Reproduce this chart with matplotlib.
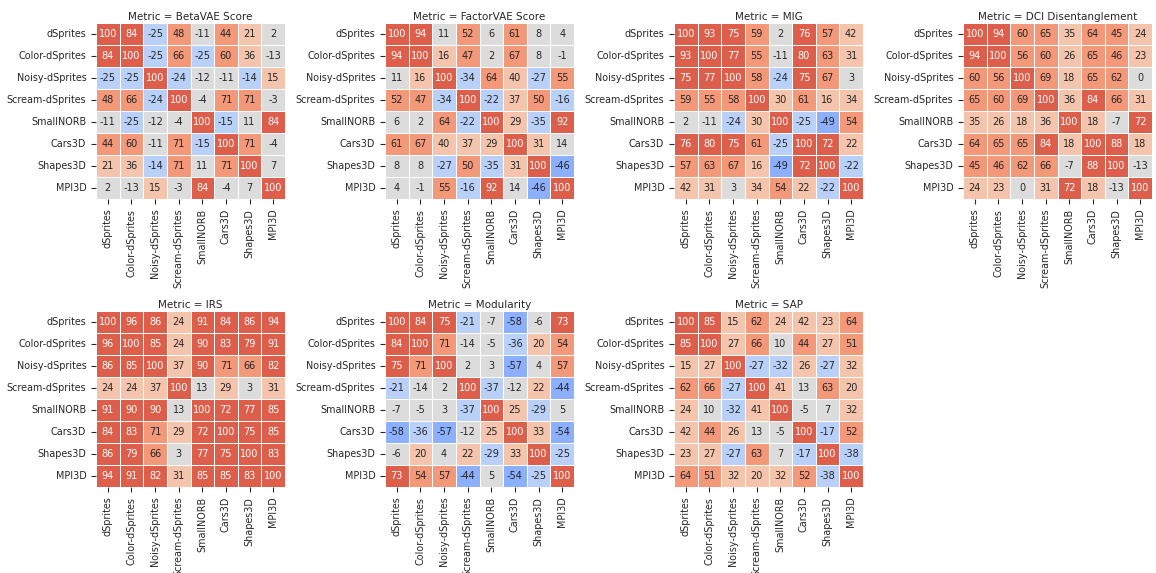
import numpy as np
import matplotlib
matplotlib.use("Agg")
import matplotlib.pyplot as plt
import seaborn as sns

datasets = ["dSprites", "Color-dSprites", "Noisy-dSprites", "Scream-dSprites",
            "SmallNORB", "Cars3D", "Shapes3D", "MPI3D"]

metrics = ["BetaVAE Score", "FactorVAE Score", "MIG", "DCI Disentanglement",
           "IRS", "Modularity", "SAP"]

beta_vae = [
    [100, 84, -25, 48, -11, 44, 21, 2],
    [84, 100, -25, 66, -25, 60, 36, -13],
    [-25, -25, 100, -24, -12, -11, -14.4, 15],
    [48, 66, -24, 100, -4, 71, 71, -3],
    [-11, -25, -12, -4, 100, -15, 11, 84],
    [44, 60, -11, 71, -15, 100, 71, -4],
    [21, 36, -14.4, 71, 11, 71, 100, 7],
    [2, -13, 15, -3, 84, -4, 7, 100],
]
factor_vae = [
    [100, 94, 11, 52, 6, 61, 8, 4],
    [94, 100, 16, 47, 2, 67, 8, -1],
    [11, 16, 100, -34, 64, 40, -27, 55],
    [52, 47, -34, 100, -22, 37, 50, -16],
    [6, 2, 64, -22, 100, 29, -35, 92],
    [61, 67, 40, 37, 29, 100, 31, 14],
    [8, 8, -27, 50, -35, 31, 100, -46],
    [4, -1, 55, -16, 92, 14, -46, 100],
]
mig = [
    [100, 93, 75, 59, 2, 76, 57, 42],
    [93, 100, 77, 55, -11, 80, 63, 31],
    [75, 77, 100, 58, -24, 75, 67, 3],
    [59, 55, 58, 100, 30, 61, 16, 34],
    [2, -11, -24, 30, 100, -25, -49, 54],
    [76, 80, 75, 61, -25, 100, 72, 22],
    [57, 63, 67, 16, -49, 72, 100, -22],
    [42, 31, 3, 34, 54, 22, -22, 100],
]
dci = [
    [100, 94, 60, 65, 35, 64, 45, 24],
    [94, 100, 56, 60, 26, 65, 46, 23],
    [60, 56, 100, 69, 18, 65, 62, 0],
    [65, 60, 69, 100, 36, 84, 66, 31],
    [35, 26, 18, 36, 100, 18, -7, 72],
    [64, 65, 65, 84, 18, 100, 88, 18],
    [45, 46, 62, 66, -7, 88, 100, -13],
    [24, 23, 0, 31, 72, 18, -13, 100],
]
irs = [
    [100, 96, 86, 24, 91, 84, 86, 94],
    [96, 100, 85, 24, 90, 83, 79, 91],
    [86, 85, 100, 37, 90, 71, 66, 82],
    [24, 24, 37, 100, 13, 29, 3, 31],
    [91, 90, 90, 13, 100, 72, 77, 85],
    [84, 83, 71, 29, 72, 100, 75, 85],
    [86, 79, 66, 3, 77, 75, 100, 83],
    [94, 91, 82, 31, 85, 85, 83, 100],
]
modularity = [
    [100, 84, 75, -21, -7, -58, -6, 73],
    [84, 100, 71, -14, -5, -36, 20, 54],
    [75, 71, 100, 2, 3, -57, 4, 57],
    [-21, -14, 2, 100, -37, -12, 22, -44],
    [-7, -5, 3, -37, 100, 25, -29, 5],
    [-58, -36, -57, -12, 25, 100, 33, -54],
    [-6, 20, 4, 22, -29, 33, 100, -25],
    [73, 54, 57, -44, 5, -54, -25, 100],
]
sap = [
    [100, 85, 15, 62, 24, 42, 23, 64],
    [85, 100, 27, 66, 10, 44, 27, 51],
    [15, 27, 100, -27, -32, 26, -27, 32],
    [62, 66, -27, 100, 41, 13, 63, 20],
    [24, 10, -32, 41, 100, -5, 7, 32],
    [42, 44, 26, 13, -5, 100, -17, 52],
    [23, 27, -27, 63, 7, -17, 100, -38],
    [64, 51, 32, 20, 32, 52, -38, 100],
]

matrices = [beta_vae, factor_vae, mig, dci, irs, modularity, sap]

text_color = "#262626"
plt.rcParams["text.color"] = text_color
plt.rcParams["xtick.color"] = text_color
plt.rcParams["ytick.color"] = text_color
plt.rcParams["font.size"] = 7

palette = sns.color_palette("coolwarm", 7)

fig = plt.figure(figsize=(11.56, 5.73), dpi=100)

# posiciones de los paneles en pixeles
lefts = [96, 385, 674, 963]
tops = [23, 311]
w, h = 189, 176

for i, (name, mat) in enumerate(zip(metrics, matrices)):
    r, c = divmod(i, 4)
    ax = fig.add_axes([lefts[c] / 1156, 1 - (tops[r] + h) / 573, w / 1156, h / 573])
    sns.heatmap(np.array(mat, dtype=float), ax=ax, cmap=palette, vmin=-100, vmax=100,
                annot=True, fmt=".0f", annot_kws={"size": 7},
                linewidths=0.7, linecolor="white", cbar=False,
                xticklabels=datasets, yticklabels=datasets)
    ax.set_title(f"Metric = {name}", fontsize=7.5, pad=2)
    ax.set_xticklabels(datasets, rotation=90, fontsize=6.9)
    ax.set_yticklabels(datasets, rotation=0, fontsize=6.9)
    ax.tick_params(length=3.5, width=0.8, pad=3.5)

fig.savefig("out.png", dpi=100)
